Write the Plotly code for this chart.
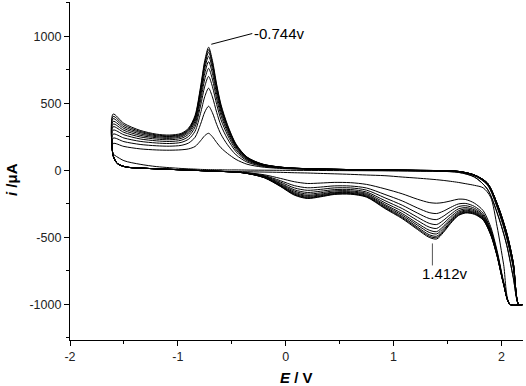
import plotly.graph_objects as go

# Potential grids (V)
FWD_E = [-1.6, -1.5, -1.35, -1.2, -1.08, -0.97, -0.9, -0.84, -0.79, -0.75, -0.715, -0.68, -0.64, -0.6,
         -0.54, -0.46, -0.36, -0.22, 0.0, 0.5, 1.2, 1.6, 1.75, 1.87, 1.97, 2.05, 2.11, 2.16, 2.2]
REV_E = [2.2, 2.08, 2.02, 1.96, 1.9, 1.83, 1.75, 1.67, 1.6, 1.53, 1.46, 1.4, 1.33, 1.22, 1.08, 0.92,
         0.75, 0.6, 0.45, 0.32, 0.2, 0.08, -0.05, -0.2, -0.4, -0.7, -1.0, -1.3, -1.48, -1.56, -1.6]

# Forward-scan currents (uA), cycles 1..11
F1 = [120, 72, 45, 28, 20, 14, 11, 9, 7, 6, 5, 5, 4, 4, 3, 3, 2, 1, 0, -2, -6, -15, -50, -140, -340, -560, -800, -1000, -1000]
F2 = [200, 178, 160, 152, 150, 153, 160, 178, 220, 259, 276, 251, 207, 168, 126, 81, 46, 25, 12, 3, -5, -15, -50, -140, -340, -560, -800, -1000, -1000]
F3 = [240, 214, 193, 183, 180, 186, 204, 247, 343, 435, 478, 430, 342, 268, 191, 115, 62, 31, 15, 5, -2, -10, -40, -110, -300, -510, -730, -1000, -1000]
F4 = [270, 241, 216, 204, 200, 208, 233, 292, 424, 551, 612, 548, 432, 334, 235, 138, 72, 36, 17, 6, -1, -9, -38, -105, -290, -500, -720, -1000, -1000]
F5 = [300, 265, 234, 220, 215, 224, 253, 324, 479, 628, 700, 626, 491, 377, 264, 153, 80, 39, 18, 6, 0, -9, -37, -100, -280, -490, -710, -1000, -1000]
F6 = [325, 283, 249, 233, 228, 238, 270, 347, 518, 681, 760, 680, 532, 409, 285, 165, 85, 41, 19, 7, 0, -8, -36, -98, -275, -480, -700, -1000, -1000]
F7 = [345, 298, 261, 243, 238, 249, 284, 366, 550, 725, 810, 724, 566, 434, 302, 174, 90, 43, 19, 7, 0, -8, -35, -96, -272, -475, -695, -1000, -1000]
F8 = [365, 312, 272, 251, 246, 257, 294, 381, 575, 760, 850, 759, 593, 454, 316, 182, 93, 45, 20, 7, 0, -8, -35, -95, -270, -470, -690, -1000, -1000]
F9 = [385, 325, 282, 258, 252, 264, 302, 393, 594, 786, 880, 786, 614, 469, 326, 187, 96, 46, 20, 7, 0, -8, -35, -95, -270, -470, -690, -1000, -1000]
F10 = [402, 338, 290, 264, 257, 269, 308, 401, 607, 804, 900, 804, 627, 480, 333, 191, 98, 47, 20, 7, 0, -8, -35, -95, -270, -470, -690, -1000, -1000]
F11 = [420, 350, 298, 270, 263, 275, 315, 410, 620, 820, 918, 820, 640, 490, 340, 195, 100, 48, 20, 7, 0, -8, -35, -95, -270, -470, -690, -1000, -1000]

# Reverse-scan currents (uA), cycles 1..11
R1 = [-1000, -1000, -700, -420, -200, -130, -112, -100, -90, -82, -75, -70, -65, -58, -50, -40, -35, -30, -26, -23, -20, -18, -15, -13, -10, -5, 5, 15, 25, 50, 110]
R2 = [-1000, -1000, -830, -600, -420, -300, -245, -218, -215, -228, -240, -245, -240, -215, -175, -138, -105, -92, -90, -95, -98, -85, -60, -33, -15, -5, 5, 15, 25, 50, 110]
R3 = [-1000, -1000, -836, -612, -437, -320, -269, -247, -251, -276, -305, -322, -315, -280, -228, -180, -132, -117, -116, -125, -130, -114, -77, -39, -16, -5, 5, 15, 25, 50, 110]
R4 = [-1000, -1000, -839, -618, -447, -332, -283, -264, -271, -304, -343, -367, -359, -318, -260, -205, -148, -131, -131, -142, -149, -131, -87, -43, -16, -5, 5, 15, 25, 50, 110]
R5 = [-1000, -1000, -842, -624, -456, -342, -294, -278, -288, -328, -374, -404, -395, -349, -285, -226, -162, -143, -144, -156, -165, -145, -96, -46, -17, -5, 5, 15, 25, 50, 110]
R6 = [-1000, -1000, -844, -628, -462, -349, -303, -288, -302, -346, -398, -433, -423, -373, -305, -242, -172, -153, -153, -168, -177, -155, -102, -49, -17, -5, 5, 15, 25, 50, 110]
R7 = [-1000, -1000, -846, -632, -468, -356, -311, -297, -313, -361, -419, -457, -446, -394, -322, -255, -180, -160, -162, -177, -187, -164, -108, -51, -17, -5, 5, 15, 25, 50, 110]
R8 = [-1000, -1000, -847, -634, -472, -360, -316, -304, -321, -372, -433, -474, -463, -408, -334, -264, -187, -166, -167, -184, -194, -171, -112, -52, -18, -5, 5, 15, 25, 50, 110]
R9 = [-1000, -1000, -848, -637, -475, -365, -321, -310, -328, -382, -447, -491, -480, -422, -345, -273, -193, -171, -173, -190, -201, -177, -115, -53, -18, -5, 5, 15, 25, 50, 110]
R10 = [-1000, -1000, -849, -639, -478, -368, -325, -314, -334, -389, -457, -502, -491, -432, -353, -280, -197, -175, -177, -194, -206, -181, -118, -54, -18, -5, 5, 15, 25, 50, 110]
R11 = [-1000, -1000, -850, -640, -480, -370, -328, -318, -338, -395, -465, -512, -500, -440, -360, -285, -200, -178, -180, -198, -210, -185, -120, -55, -18, -5, 5, 15, 25, 50, 110]

FORWARD = [F1, F2, F3, F4, F5, F6, F7, F8, F9, F10, F11]
REVERSE = [R1, R2, R3, R4, R5, R6, R7, R8, R9, R10, R11]

X_TICKS = [-2, -1, 0, 1, 2]
X_LABELS = ["-2", "-1", "0", "1", "2"]
Y_TICKS = [-1000, -500, 0, 500, 1000]
Y_LABELS = ["-1000", "-500", "0", "500", "1000"]

FONT = "Liberation Sans, Arial, sans-serif"

xs, ys = [], []
for fwd, rev in zip(FORWARD, REVERSE):
    xs += FWD_E + REV_E
    ys += fwd + rev

fig = go.Figure()
fig.add_trace(go.Scatter(x=xs, y=ys, mode="lines",
                         line=dict(color="black", width=1, shape="spline", smoothing=0.8),
                         showlegend=False, hoverinfo="skip"))

axis_common = dict(showline=True, linecolor="black", linewidth=1.2, ticks="outside",
                   tickcolor="black", tickwidth=1, showgrid=False, zeroline=False, mirror=False,
                   tickfont=dict(family=FONT, size=12.5, color="#222"))

fig.update_xaxes(range=[-2, 2.2], tickvals=X_TICKS, ticktext=X_LABELS, ticklen=5,
                 minor=dict(dtick=0.5, ticklen=3, ticks="outside", tickcolor="black", showgrid=False),
                 **axis_common)
fig.update_yaxes(range=[-1265, 1255], tickvals=Y_TICKS, ticktext=Y_LABELS, ticklen=5,
                 minor=dict(dtick=250, ticklen=3, ticks="outside", tickcolor="black", showgrid=False),
                 **axis_common)

# peak annotations
fig.add_shape(type="line", x0=-0.69, y0=940, x1=-0.31, y1=1020, line=dict(color="black", width=1))
fig.add_annotation(x=-0.31, y=1022, text="-0.744v", showarrow=False, xanchor="left", yanchor="middle",
                   font=dict(family=FONT, size=15, color="black"))
fig.add_shape(type="line", x0=1.36, y0=-545, x1=1.36, y1=-709, line=dict(color="#555", width=1))
fig.add_annotation(x=1.474, y=-772, text="1.412v", showarrow=False, xanchor="center", yanchor="middle",
                   font=dict(family=FONT, size=15, color="black"))

# axis titles
fig.add_annotation(xref="paper", yref="paper", x=(296 - 70) / 453, y=-(377 - 340) / 338,
                   text="<b><i>E</i> / V</b>", showarrow=False, xanchor="center", yanchor="middle",
                   font=dict(family=FONT, size=15, color="black"))
fig.add_annotation(xref="paper", yref="paper", x=-(70 - 11) / 453, y=(340 - 180) / 338,
                   text="<b><i>i</i> /μA</b>", showarrow=False, xanchor="center", yanchor="middle",
                   textangle=-90, font=dict(family=FONT, size=15, color="black"))

fig.update_layout(width=526, height=386, margin=dict(l=70, r=3, t=2, b=46),
                  paper_bgcolor="white", plot_bgcolor="white")

fig.write_html("out.html")
